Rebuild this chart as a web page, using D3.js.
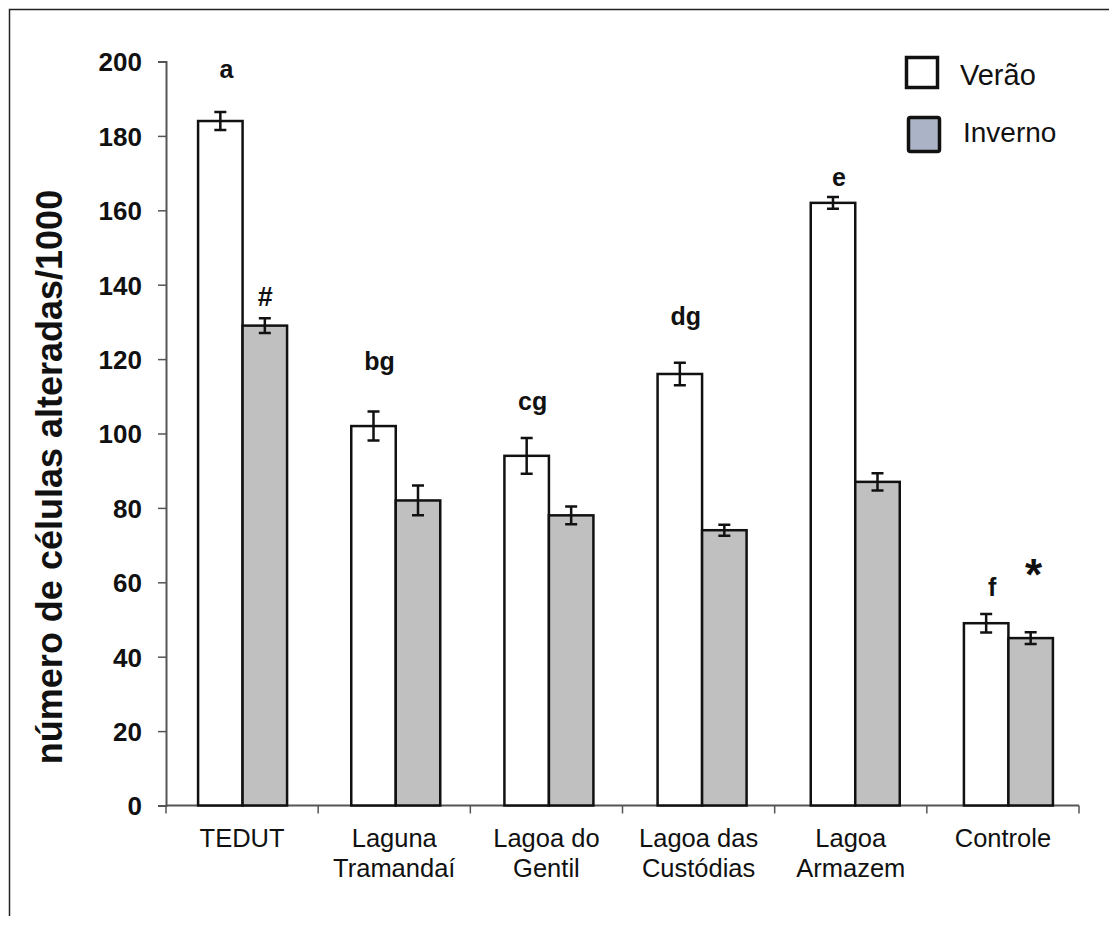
<!DOCTYPE html>
<html>
<head>
<meta charset="utf-8">
<script src="https://cdn.jsdelivr.net/npm/d3@7"></script>
<style>
  body { margin: 0; background: #fff; }
  svg text { font-family: "Liberation Sans", Arial, sans-serif; }
</style>
</head>
<body>
<div id="chart"></div>
<script>
// data
const sites = ["TEDUT", "Laguna\nTramandaí", "Lagoa do\nGentil", "Lagoa das\nCustódias", "Lagoa\nArmazem", "Controle"];
const verao = [184, 102, 94, 116, 162, 49];
const veraoErr = [2.4, 3.9, 4.8, 3, 1.6, 2.5];
const inverno = [129, 82, 78, 74, 87, 45];
const invernoErr = [2, 4, 2.4, 1.5, 2.3, 1.6];
const veraoLetters = ["a", "bg", "cg", "dg", "e", "f"];
const veraoLetterAt = [195.6, 117, 106.3, 129.2, 166.5, 56.2];   // baseline, in axis units
const invernoMarks = ["#", "", "", "", "", "*"];
const invernoMarkAt = [134.3, 0, 0, 0, 0, 57.9];
const yTicks = [0, 20, 40, 60, 80, 100, 120, 140, 160, 180, 200];

const W = 1109, H = 925;
const margin = {top: 61.5, right: 30, bottom: 119.5, left: 166};
const width = 1079 - margin.left;
const height = H - margin.top - margin.bottom;

const svg = d3.select("#chart").append("svg")
    .attr("width", W)
    .attr("height", H);

// outer frame (top and left only)
svg.append("path")
    .attr("d", "M9.5,916 V9.5 H" + W)
    .attr("fill", "none")
    .attr("stroke", "#222")
    .attr("stroke-width", 1.5);

const g = svg.append("g")
    .attr("transform", "translate(" + margin.left + "," + margin.top + ")");

// axis categories
const x = d3.scaleBand()
    .domain(sites)
    .range([0, width]);

// bars sit on a slightly wider spacing than the axis ticks (as in the original)
const xBars = d3.scaleBand()
    .domain(sites)
    .range([0, width + 6]);

const barW = 44.5;

const y = d3.scaleLinear()
    .domain([0, 200])
    .range([height, 0]);

// y axis
const yAxis = g.append("g")
    .call(d3.axisLeft(y).tickValues(yTicks).tickSize(8).tickPadding(16));
yAxis.select(".domain").attr("stroke", "#555").attr("stroke-width", 2);
yAxis.selectAll(".tick line").attr("stroke", "#555").attr("stroke-width", 1.5);
yAxis.selectAll(".tick text")
    .attr("font-size", 26)
    .attr("font-weight", "bold")
    .attr("fill", "#111")
    .attr("dy", "0.36em");

// x axis line with ticks at category boundaries
g.append("line")
    .attr("x1", 0).attr("x2", width)
    .attr("y1", height).attr("y2", height)
    .attr("stroke", "#555").attr("stroke-width", 2);

const boundaries = sites.map(s => x(s)).concat([width]);
g.selectAll(".xtick")
    .data(boundaries)
    .enter().append("line")
    .attr("x1", d => d).attr("x2", d => d)
    .attr("y1", height).attr("y2", height + 8)
    .attr("stroke", "#555").attr("stroke-width", 1.5);

// x labels
const xl = g.selectAll(".xlabel")
    .data(sites)
    .enter().append("text")
    .attr("text-anchor", "middle")
    .attr("font-size", 25.5)
    .attr("fill", "#111")
    .attr("transform", d => "translate(" + (x(d) + x.bandwidth() / 2) + "," + (height + 41) + ")");
xl.selectAll("tspan")
    .data(d => d.split("\n"))
    .enter().append("tspan")
    .attr("x", 0)
    .attr("dy", (d, i) => i === 0 ? 0 : 30)
    .text(d => d);

// bars
const groups = g.selectAll(".site")
    .data(sites)
    .enter().append("g")
    .attr("transform", d => "translate(" + (xBars(d) + xBars.bandwidth() / 2) + ",0)");

function drawSeries(values, errs, offset, fill) {
    groups.append("rect")
        .attr("x", offset)
        .attr("y", (d, i) => y(values[i]))
        .attr("width", barW)
        .attr("height", (d, i) => height - y(values[i]))
        .attr("fill", fill)
        .attr("stroke", "#111")
        .attr("stroke-width", 2.5);

    const cx = offset + barW / 2;
    groups.append("path")
        .attr("d", (d, i) => {
            const t = y(values[i] + errs[i]), b = y(values[i] - errs[i]);
            return "M" + cx + "," + t + "V" + b +
                "M" + (cx - 6) + "," + t + "H" + (cx + 6) +
                "M" + (cx - 6) + "," + b + "H" + (cx + 6);
        })
        .attr("fill", "none")
        .attr("stroke", "#111")
        .attr("stroke-width", 2.5);
}

drawSeries(verao, veraoErr, -barW, "#fff");
drawSeries(inverno, invernoErr, 0, "#c0c0c0");

// significance letters
groups.append("text")
    .attr("x", -barW / 2 + 6)
    .attr("y", (d, i) => y(veraoLetterAt[i]))
    .attr("text-anchor", "middle")
    .attr("font-size", 25)
    .attr("font-weight", "bold")
    .attr("fill", "#111")
    .text((d, i) => veraoLetters[i]);

groups.append("text")
    .attr("x", (d, i) => barW / 2 + (i === 5 ? 3 : 0.5))
    .attr("y", (d, i) => y(invernoMarkAt[i]))
    .attr("text-anchor", "middle")
    .attr("font-size", (d, i) => i === 5 ? 44 : 27)
    .attr("font-weight", "bold")
    .attr("fill", "#111")
    .text((d, i) => invernoMarks[i]);

// y axis title
svg.append("text")
    .attr("transform", "translate(62,477) rotate(-90)")
    .attr("text-anchor", "middle")
    .attr("font-size", 36)
    .attr("font-weight", "bold")
    .attr("fill", "#111")
    .text("número de células alteradas/1000");

// legend
const legend = svg.append("g");
legend.append("rect")
    .attr("x", 906.5).attr("y", 57.5)
    .attr("width", 31).attr("height", 30)
    .attr("fill", "#fff").attr("stroke", "#111").attr("stroke-width", 3.5);
legend.append("text")
    .attr("x", 960).attr("y", 85)
    .attr("font-size", 29).attr("fill", "#111")
    .text("Verão");
legend.append("rect")
    .attr("x", 908.5).attr("y", 117.5)
    .attr("width", 31).attr("height", 34).attr("rx", 2)
    .attr("fill", "#aab4c6").attr("stroke", "#111").attr("stroke-width", 3.5);
legend.append("text")
    .attr("x", 963).attr("y", 142)
    .attr("font-size", 28).attr("fill", "#111")
    .text("Inverno");
</script>
</body>
</html>
